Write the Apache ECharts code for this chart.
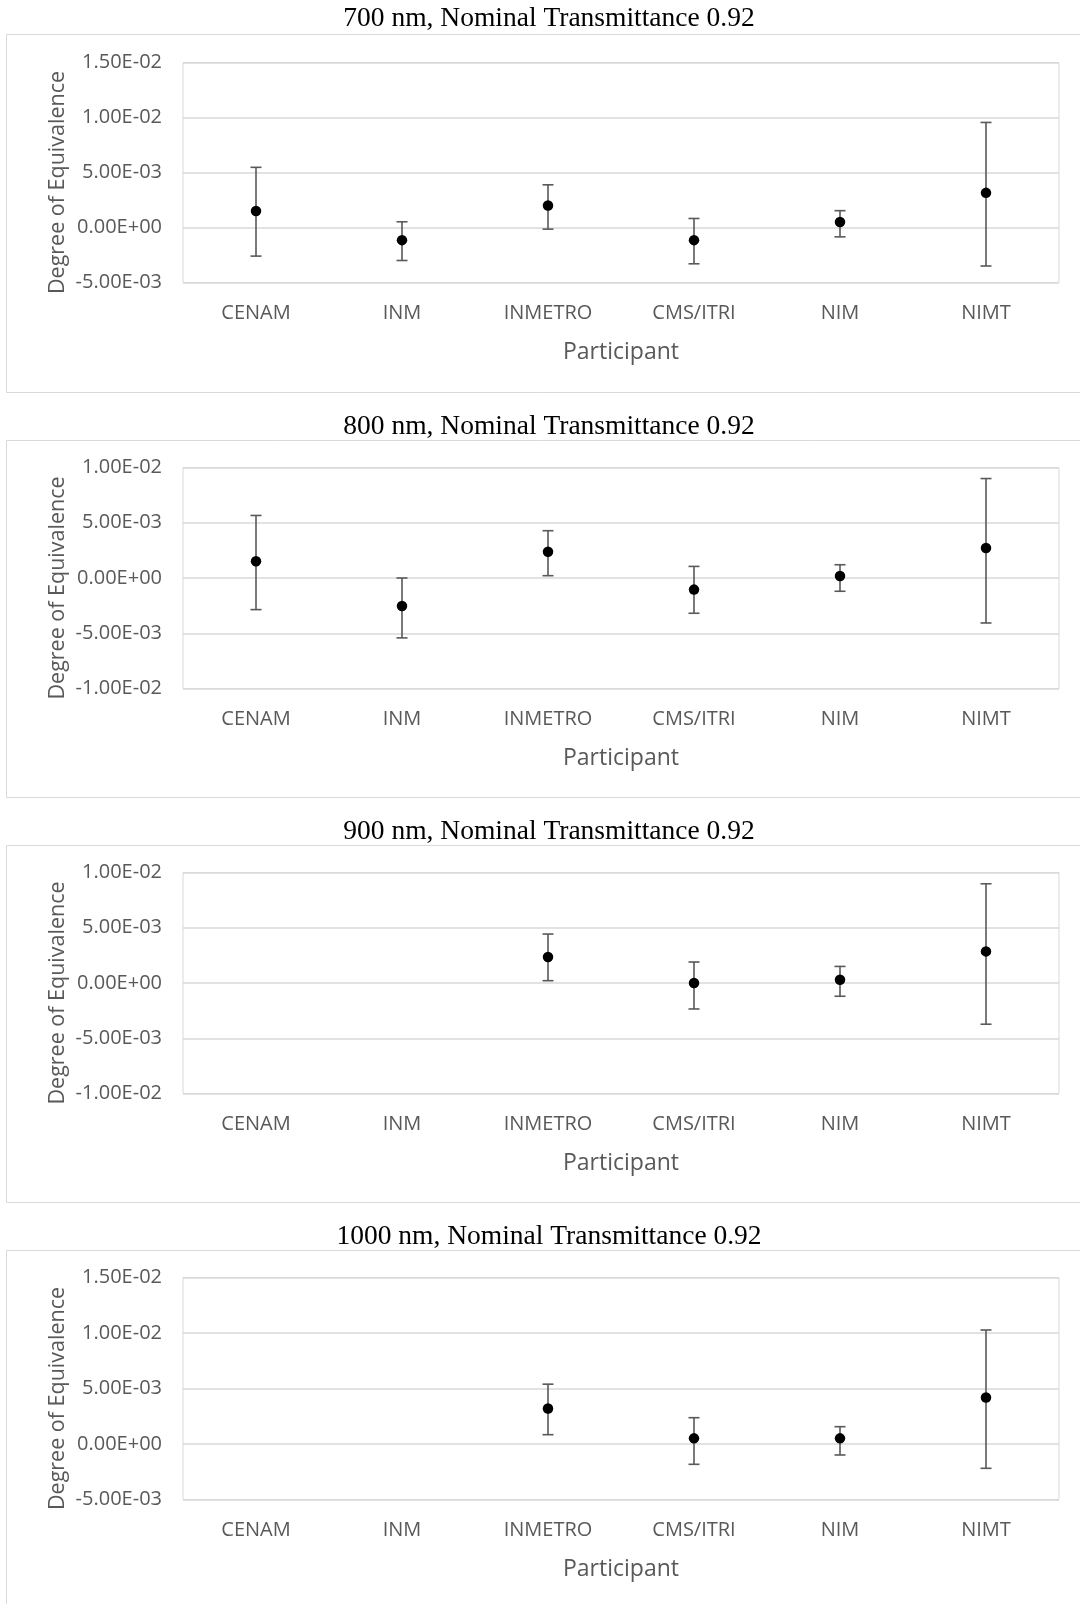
<!DOCTYPE html>
<html>
<head>
<meta charset="utf-8">
<script src="https://cdn.jsdelivr.net/npm/echarts@6/dist/echarts.min.js"></script>
<style>
  html, body { margin: 0; padding: 0; background: #fff; }
  #chart { width: 1080px; height: 1604px; }
</style>
</head>
<body>
<div id="chart"></div>
<script>
// participants on the x axis
const participants = ['CENAM', 'INM', 'INMETRO', 'CMS/ITRI', 'NIM', 'NIMT'];
const titles = [
  '700 nm, Nominal Transmittance 0.92',
  '800 nm, Nominal Transmittance 0.92',
  '900 nm, Nominal Transmittance 0.92',
  '1000 nm, Nominal Transmittance 0.92'
];

// degree of equivalence + error bar ends (low / high)
const doe700  = [1.50e-3, -1.15e-3, 2.00e-3, -1.15e-3, 0.50e-3, 3.15e-3];
const low700  = [-2.60e-3, -3.00e-3, -0.15e-3, -3.30e-3, -0.85e-3, -3.50e-3];
const high700 = [5.47e-3, 0.52e-3, 3.88e-3, 0.82e-3, 1.53e-3, 9.55e-3];

const doe800  = [1.51e-3, -2.53e-3, 2.38e-3, -1.05e-3, 0.18e-3, 2.71e-3];
const low800  = [-2.86e-3, -5.42e-3, 0.21e-3, -3.19e-3, -1.20e-3, -4.07e-3];
const high800 = [5.66e-3, 0.00e-3, 4.28e-3, 1.05e-3, 1.20e-3, 9.00e-3];

const doe900  = [null, null, 2.35e-3, 0.00e-3, 0.30e-3, 2.86e-3];
const low900  = [null, null, 0.21e-3, -2.35e-3, -1.20e-3, -3.73e-3];
const high900 = [null, null, 4.43e-3, 1.90e-3, 1.50e-3, 8.98e-3];

const doe1000  = [null, null, 3.20e-3, 0.51e-3, 0.51e-3, 4.19e-3];
const low1000  = [null, null, 0.84e-3, -1.83e-3, -0.99e-3, -2.19e-3];
const high1000 = [null, null, 5.39e-3, 2.37e-3, 1.56e-3, 10.27e-3];

// y tick values per panel
const yTicks700  = [-0.005, 0, 0.005, 0.01, 0.015];
const yTicks800  = [-0.01, -0.005, 0, 0.005, 0.01];
const yTicks900  = [-0.01, -0.005, 0, 0.005, 0.01];
const yTicks1000 = [-0.005, 0, 0.005, 0.01, 0.015];

const panels = [
  { doe: doe700, low: low700, high: high700, ticks: yTicks700 },
  { doe: doe800, low: low800, high: high800, ticks: yTicks800 },
  { doe: doe900, low: low900, high: high900, ticks: yTicks900 },
  { doe: doe1000, low: low1000, high: high1000, ticks: yTicks1000 }
];

// layout (px): title centre, outer box, plot area
const layout = [
  { titleY: 20.5, boxTop: 34, boxBottom: 392, plotTop: 62.5, plotBottom: 282.5 },
  { titleY: 428.5, boxTop: 440, boxBottom: 797, plotTop: 467.5, plotBottom: 688.5 },
  { titleY: 833.5, boxTop: 845, boxBottom: 1202, plotTop: 872.5, plotBottom: 1093.5 },
  { titleY: 1238.5, boxTop: 1250, boxBottom: 1620, plotTop: 1277.5, plotBottom: 1499.5 }
];

const labelFont = 'Open Sans';
const grey = '#595959';
const lineGrey = '#d9d9d9';

// 1.50E-02 style
function sci(v) {
  const s = Number(v).toExponential(2);
  const [m, e] = s.split('e');
  const sign = e[0] === '-' ? '-' : '+';
  const digits = e.replace(/[+-]/, '').padStart(2, '0');
  return m + 'E' + sign + digits;
}

const chart = echarts.init(document.getElementById('chart'), null, { renderer: 'canvas' });

const title = [], grid = [], xAxis = [], yAxis = [], series = [], graphic = [];

panels.forEach((p, i) => {
  const L = layout[i];
  title.push({
    text: titles[i],
    left: 549,
    top: L.titleY - 16,
    textAlign: 'center',
    padding: 0,
    textStyle: { fontFamily: 'Liberation Serif', fontSize: 27.5, fontWeight: 'normal', color: '#000' }
  });
  graphic.push({
    type: 'rect',
    silent: true,
    z: -10,
    shape: { x: 6.5, y: L.boxTop + 0.5, width: 1100, height: L.boxBottom - L.boxTop },
    style: { fill: 'none', stroke: lineGrey, lineWidth: 1 }
  });
  grid.push({
    left: 183,
    right: 21,
    top: L.plotTop,
    height: L.plotBottom - L.plotTop,
    show: true,
    borderColor: lineGrey,
    borderWidth: 1,
    backgroundColor: 'transparent'
  });
  xAxis.push({
    type: 'category',
    gridIndex: i,
    data: participants,
    boundaryGap: true,
    name: 'Participant',
    nameLocation: 'middle',
    nameGap: 58,
    nameMoveOverlap: false,
    nameTextStyle: { fontFamily: labelFont, fontSize: 23, color: grey },
    axisLine: { show: false },
    axisTick: { show: false },
    axisLabel: { margin: 21, fontFamily: labelFont, fontSize: 20, color: grey },
    splitLine: { show: false }
  });
  const t = p.ticks;
  yAxis.push({
    type: 'value',
    gridIndex: i,
    min: t[0],
    max: t[t.length - 1],
    interval: t[1] - t[0],
    name: 'Degree of Equivalence',
    nameLocation: 'middle',
    nameGap: 114,
    nameMoveOverlap: false,
    nameTextStyle: { fontFamily: labelFont, fontSize: 21.5, color: grey, padding: [0, 20, 0, 0] },
    axisLine: { show: false },
    axisTick: { show: false },
    axisLabel: { margin: 21, fontFamily: labelFont, fontSize: 20, color: grey, formatter: sci },
    splitLine: { show: true, lineStyle: { color: lineGrey, width: 1.5 } }
  });

  const bars = [];
  p.doe.forEach((v, k) => {
    if (p.low[k] != null && p.high[k] != null) bars.push([k, p.low[k], p.high[k]]);
  });
  series.push({
    type: 'custom',
    xAxisIndex: i,
    yAxisIndex: i,
    silent: true,
    z: 2,
    data: bars,
    encode: { x: 0, y: [1, 2] },
    renderItem: (params, api) => {
      const lo = api.coord([api.value(0), api.value(1)]);
      const hi = api.coord([api.value(0), api.value(2)]);
      const cap = 5.5;
      const st = { stroke: grey, lineWidth: 1.6 };
      return {
        type: 'group',
        children: [
          { type: 'line', shape: { x1: lo[0], y1: lo[1], x2: hi[0], y2: hi[1] }, style: st },
          { type: 'line', shape: { x1: lo[0] - cap, y1: lo[1], x2: lo[0] + cap, y2: lo[1] }, style: st },
          { type: 'line', shape: { x1: hi[0] - cap, y1: hi[1], x2: hi[0] + cap, y2: hi[1] }, style: st }
        ]
      };
    }
  });
  series.push({
    type: 'scatter',
    xAxisIndex: i,
    yAxisIndex: i,
    z: 3,
    symbol: 'circle',
    symbolSize: 10.5,
    itemStyle: { color: '#000', opacity: 1 },
    data: p.doe.map((v, k) => (v == null ? null : [k, v]))
  });
});

chart.setOption({
  backgroundColor: '#fff',
  animation: false,
  title,
  grid,
  xAxis,
  yAxis,
  series,
  graphic
});
</script>
</body>
</html>
